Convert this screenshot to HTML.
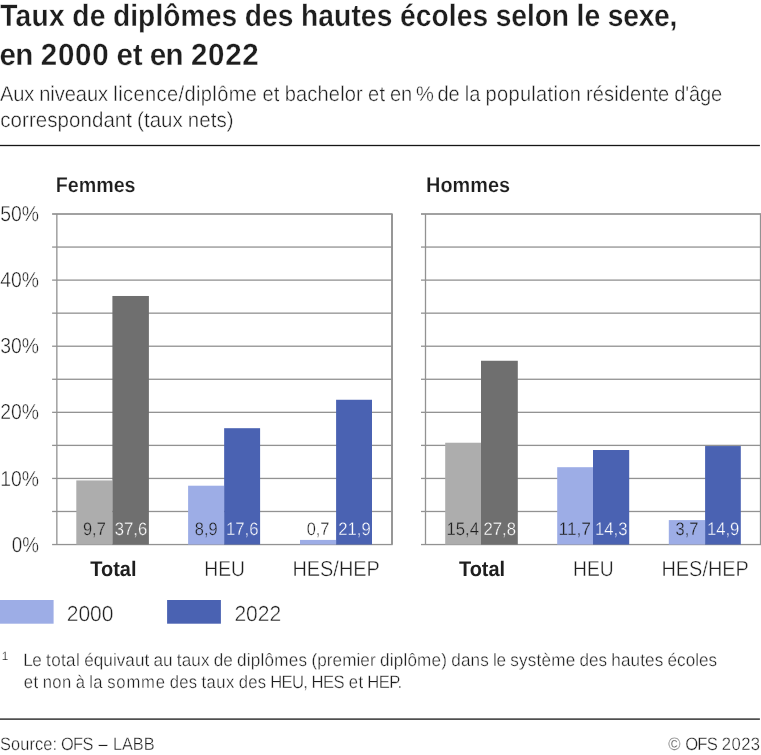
<!DOCTYPE html>
<html lang="fr"><head><meta charset="utf-8"><title>Taux de diplômes des hautes écoles selon le sexe</title>
<style>html,body{margin:0;padding:0;background:#fff}svg{display:block}</style></head>
<body>
<svg width="761" height="755" viewBox="0 0 761 755" font-family="'Liberation Sans', Arial, Helvetica, sans-serif" fill="#1e1e1e" text-rendering="geometricPrecision">
<rect width="761" height="755" fill="#fff"/>
<rect x="0" y="144.85" width="759.9" height="1.3" fill="#161616"/>
<rect x="0" y="718.45" width="759.9" height="1.3" fill="#161616"/>
<rect x="52.10" y="543.90" width="340.50" height="1.30" fill="#929292"/>
<rect x="52.10" y="510.84" width="340.50" height="1.30" fill="#929292"/>
<rect x="52.10" y="477.79" width="340.50" height="1.30" fill="#929292"/>
<rect x="52.10" y="444.74" width="340.50" height="1.30" fill="#929292"/>
<rect x="52.10" y="411.68" width="340.50" height="1.30" fill="#929292"/>
<rect x="52.10" y="378.62" width="340.50" height="1.30" fill="#929292"/>
<rect x="52.10" y="345.57" width="340.50" height="1.30" fill="#929292"/>
<rect x="52.10" y="312.51" width="340.50" height="1.30" fill="#929292"/>
<rect x="52.10" y="279.46" width="340.50" height="1.30" fill="#929292"/>
<rect x="52.10" y="246.41" width="340.50" height="1.30" fill="#929292"/>
<rect x="52.10" y="213.15" width="340.50" height="1.70" fill="#929292"/>
<rect x="56.20" y="214.00" width="1.3" height="330.55" fill="#929292"/>
<rect x="391.05" y="214.00" width="1.9" height="330.55" fill="#929292"/>
<rect x="76.30" y="480.42" width="36.10" height="64.13" fill="#adadad"/>
<rect x="112.40" y="295.98" width="36.50" height="248.57" fill="#6f6f6f"/>
<rect x="188.10" y="485.71" width="36.05" height="58.84" fill="#9dade6"/>
<rect x="224.15" y="428.20" width="35.95" height="116.35" fill="#4a62b2"/>
<rect x="300.00" y="539.92" width="36.10" height="4.63" fill="#9dade6"/>
<rect x="336.10" y="399.77" width="35.90" height="144.78" fill="#4a62b2"/>
<rect x="421.00" y="543.90" width="340.10" height="1.30" fill="#929292"/>
<rect x="421.00" y="510.84" width="340.10" height="1.30" fill="#929292"/>
<rect x="421.00" y="477.79" width="340.10" height="1.30" fill="#929292"/>
<rect x="421.00" y="444.74" width="340.10" height="1.30" fill="#929292"/>
<rect x="421.00" y="411.68" width="340.10" height="1.30" fill="#929292"/>
<rect x="421.00" y="378.62" width="340.10" height="1.30" fill="#929292"/>
<rect x="421.00" y="345.57" width="340.10" height="1.30" fill="#929292"/>
<rect x="421.00" y="312.51" width="340.10" height="1.30" fill="#929292"/>
<rect x="421.00" y="279.46" width="340.10" height="1.30" fill="#929292"/>
<rect x="421.00" y="246.41" width="340.10" height="1.30" fill="#929292"/>
<rect x="421.00" y="213.15" width="340.10" height="1.70" fill="#929292"/>
<rect x="424.85" y="214.00" width="1.3" height="330.55" fill="#929292"/>
<rect x="759.85" y="214.00" width="1.3" height="330.55" fill="#929292"/>
<rect x="445.20" y="442.74" width="35.80" height="101.81" fill="#adadad"/>
<rect x="481.00" y="360.76" width="36.80" height="183.79" fill="#6f6f6f"/>
<rect x="557.20" y="467.20" width="35.80" height="77.35" fill="#9dade6"/>
<rect x="593.00" y="450.01" width="36.20" height="94.54" fill="#4a62b2"/>
<rect x="668.80" y="520.09" width="36.30" height="24.46" fill="#9dade6"/>
<rect x="705.10" y="446.05" width="35.70" height="98.50" fill="#4a62b2"/>
<rect x="0" y="600" width="53.6" height="23.7" fill="#9dade6"/>
<rect x="167.1" y="600" width="53.8" height="23.7" fill="#4a62b2"/>
<text transform="scale(0.9153 1)" x="0.27 17.03 34.41 53.47 70.71 78.98 97.93 115.11 123.36 142.26 150.91 169.79 178.44 197.34 224.80 242.01 259.17 267.40 286.25 303.41 320.54 328.79 347.72 364.97 383.90 394.27 411.51 428.69 436.95 454.20 471.43 490.33 499.00 516.24 533.42 541.58 558.63 575.68 584.16 602.90 621.65 629.94 638.68 655.89 663.96 680.86 697.74 714.63 731.51" y="25.50" font-size="30.77" font-weight="bold" stroke="#fff" stroke-width="0.30">Taux de diplômes des hautes écoles selon le sexe,</text>
<text transform="scale(0.9590 1)" x="-0.42 15.91 34.31 42.49 60.36 78.23 96.12 113.61 121.42 138.51 148.73 156.16 172.51 190.90 199.10 216.96 234.83 252.71" y="64.90" font-size="30.77" font-weight="bold" stroke="#fff" stroke-width="0.30">en 2000 et en 2022</text>
<text transform="scale(0.9453 1)" x="0.01 14.02 25.67 36.21 41.51 53.26 57.92 68.49 80.26 92.01 103.77 114.36 119.88 125.00 130.13 141.15 153.36 165.57 176.59 188.82 195.12 207.33 212.44 224.65 229.78 241.99 260.09 272.10 277.57 289.67 295.72 301.13 313.10 325.09 335.87 347.84 359.83 364.71 376.68 383.84 389.31 401.41 407.46 412.69 424.32 436.06 439.99 457.50 462.76 474.47 486.22 491.56 496.30 508.14 513.62 525.74 537.86 550.00 562.12 567.15 579.29 585.49 590.53 602.66 614.62 619.98 627.13 639.02 649.72 654.53 666.41 678.30 690.20 696.18 708.03 713.26 724.89 728.76 740.39 752.02" y="100.70" font-size="21.25" stroke="#fff" stroke-width="0.40">Aux niveaux licence/diplôme et bachelor et en % de la population résidente d'âge</text>
<text transform="scale(0.9638 1)" x="0.24 10.94 22.83 29.98 37.13 49.02 59.71 71.60 83.50 95.39 107.27 119.17 131.06 137.00 142.24 149.34 155.28 167.12 178.96 189.59 194.83 206.72 218.59 224.56 235.24" y="127.30" font-size="21.25" stroke="#fff" stroke-width="0.40">correspondant (taux nets)</text>
<text transform="scale(0.9351 1)" x="59.58 72.42 84.12 102.84 121.56 133.26" y="191.70" font-size="21.06" font-weight="bold" stroke="#fff" stroke-width="0.21">Femmes</text>
<text transform="scale(0.9095 1)" x="91.23 101.25 106.25" y="534.60" font-size="18.03" stroke="#adadad" stroke-width="0.34">9,7</text>
<text transform="scale(0.9261 1)" x="123.92 133.94 143.95 148.95" y="534.60" font-size="18.03" fill="#fff" stroke="#6f6f6f" stroke-width="0.34">37,6</text>
<text transform="scale(0.9484 1)" x="95.24 106.52 119.38 126.40 138.10" y="575.60" font-size="21.06" font-weight="bold">Total</text>
<text transform="scale(0.9095 1)" x="214.20 224.22 229.22" y="534.60" font-size="18.03" stroke="#9dade6" stroke-width="0.34">8,9</text>
<text transform="scale(0.9261 1)" x="244.02 254.03 264.05 269.05" y="534.60" font-size="18.03" fill="#fff" stroke="#4a62b2" stroke-width="0.34">17,6</text>
<text transform="scale(0.8898 1)" x="229.59 245.20 259.62" y="575.60" font-size="21.63" stroke="#fff" stroke-width="0.41">HEU</text>
<text transform="scale(0.9095 1)" x="337.18 347.20 352.20" y="534.60" font-size="18.03" stroke="#fff" stroke-width="0.34">0,7</text>
<text transform="scale(0.9261 1)" x="365.28 375.29 385.31 390.31" y="534.60" font-size="18.03" fill="#fff" stroke="#4a62b2" stroke-width="0.34">21,9</text>
<text transform="scale(0.9202 1)" x="317.84 333.45 347.87 362.29 368.31 383.92 398.34" y="575.60" font-size="21.63" stroke="#fff" stroke-width="0.41">HES/HEP</text>
<text transform="scale(0.9448 1)" x="450.99 466.18 479.04 497.76 516.46 528.18" y="191.70" font-size="21.06" font-weight="bold" stroke="#fff" stroke-width="0.21">Hommes</text>
<text transform="scale(0.9261 1)" x="482.09 492.11 502.12 507.12" y="534.60" font-size="18.03" stroke="#adadad" stroke-width="0.34">15,4</text>
<text transform="scale(0.9261 1)" x="522.13 532.14 542.16 547.16" y="534.60" font-size="18.03" fill="#fff" stroke="#6f6f6f" stroke-width="0.34">27,8</text>
<text transform="scale(0.9484 1)" x="483.91 495.19 508.05 515.07 526.77" y="575.60" font-size="21.06" font-weight="bold">Total</text>
<text transform="scale(0.9629 1)" x="580.08 588.75 598.76 603.78" y="534.60" font-size="18.03" stroke="#9dade6" stroke-width="0.34">11,7</text>
<text transform="scale(0.9261 1)" x="642.54 652.55 662.57 667.57" y="534.60" font-size="18.03" fill="#fff" stroke="#4a62b2" stroke-width="0.34">14,3</text>
<text transform="scale(0.8898 1)" x="644.10 659.71 674.13" y="575.60" font-size="21.63" stroke="#fff" stroke-width="0.41">HEU</text>
<text transform="scale(0.9095 1)" x="742.76 752.78 757.78" y="534.60" font-size="18.03" stroke="#9dade6" stroke-width="0.34">3,7</text>
<text transform="scale(0.9261 1)" x="763.34 773.36 783.38 788.38" y="534.60" font-size="18.03" fill="#fff" stroke="#4a62b2" stroke-width="0.34">14,9</text>
<text transform="scale(0.9202 1)" x="718.85 734.46 748.88 763.30 769.32 784.93 799.35" y="575.60" font-size="21.63" stroke="#fff" stroke-width="0.41">HES/HEP</text>
<text transform="scale(0.8696 1)" x="13.54 25.55" y="551.65" font-size="21.63" stroke="#fff" stroke-width="0.41">0%</text>
<text transform="scale(0.8968 1)" x="0.32 12.34 24.37" y="485.54" font-size="21.63" stroke="#fff" stroke-width="0.41">10%</text>
<text transform="scale(0.8968 1)" x="0.32 12.34 24.37" y="419.43" font-size="21.63" stroke="#fff" stroke-width="0.41">20%</text>
<text transform="scale(0.8968 1)" x="0.32 12.34 24.37" y="353.32" font-size="21.63" stroke="#fff" stroke-width="0.41">30%</text>
<text transform="scale(0.8968 1)" x="0.32 12.34 24.37" y="287.21" font-size="21.63" stroke="#fff" stroke-width="0.41">40%</text>
<text transform="scale(0.8968 1)" x="0.32 12.34 24.37" y="221.10" font-size="21.63" stroke="#fff" stroke-width="0.41">50%</text>
<text transform="scale(0.9686 1)" x="68.86 80.94 93.02 105.10" y="620.70" font-size="21.73" stroke="#fff" stroke-width="0.41">2000</text>
<text transform="scale(0.9686 1)" x="241.99 254.07 266.15 278.23" y="620.70" font-size="21.73" stroke="#fff" stroke-width="0.41">2022</text>
<text x="1.81" y="659.50" font-size="11.85" stroke="#fff" stroke-width="0.22">1</text>
<text transform="scale(0.9535 1)" x="24.34 33.88 43.65 48.29 53.63 63.98 69.33 79.68 83.86 88.34 98.36 108.39 118.41 122.44 131.46 141.49 151.51 156.52 160.95 170.88 180.84 185.38 190.55 200.71 210.86 219.92 224.29 234.09 243.99 248.56 258.78 263.00 273.22 277.44 287.66 302.85 313.07 322.17 326.66 332.71 342.76 348.80 358.85 373.89 377.94 387.99 393.99 398.55 408.73 412.91 423.09 427.27 437.45 452.60 462.78 468.86 473.36 483.43 493.50 503.57 512.60 516.96 520.74 530.62 535.18 544.35 553.54 562.71 567.90 578.09 593.25 603.33 607.78 617.74 627.70 636.66 641.17 651.26 661.36 671.45 676.53 686.62 695.64 700.09 710.08 719.07 729.07 733.07 743.07" y="665.50" font-size="17.97" stroke="#fff" stroke-width="0.34">Le total équivaut au taux de diplômes (premier diplôme) dans le système des hautes écoles</text>
<text transform="scale(0.9254 1)" x="25.74 36.14 41.33 46.15 56.57 66.99 77.20 81.85 91.90 96.57 100.74 110.81 115.85 125.72 136.59 152.42 168.26 178.69 183.41 193.67 203.93 213.05 217.84 223.26 233.69 244.11 253.31 258.04 268.31 278.57 287.67 291.91 304.16 315.44 327.70 332.33 336.64 349.05 360.46 372.14 376.95 387.36 392.56 396.83 409.20 420.57 429.64" y="687.90" font-size="17.97" stroke="#fff" stroke-width="0.34">et non à la somme des taux des HEU, HES et HEP.</text>
<text transform="scale(0.9115 1)" x="0.09 12.14 22.22 32.29 38.35 47.42 57.50 62.54 66.87 80.19 90.52 102.17 108.06 119.26 123.89 133.80 145.69 157.59" y="749.70" font-size="17.94" stroke="#fff" stroke-width="0.34">Source: OFS – LABB</text>
<text transform="scale(0.9295 1)" x="718.88 732.97 737.11 750.21 760.32 771.85 776.62 787.02 797.39 807.79" y="749.70" font-size="17.94" stroke="#fff" stroke-width="0.34">© OFS 2023</text>
</svg>
</body></html>
